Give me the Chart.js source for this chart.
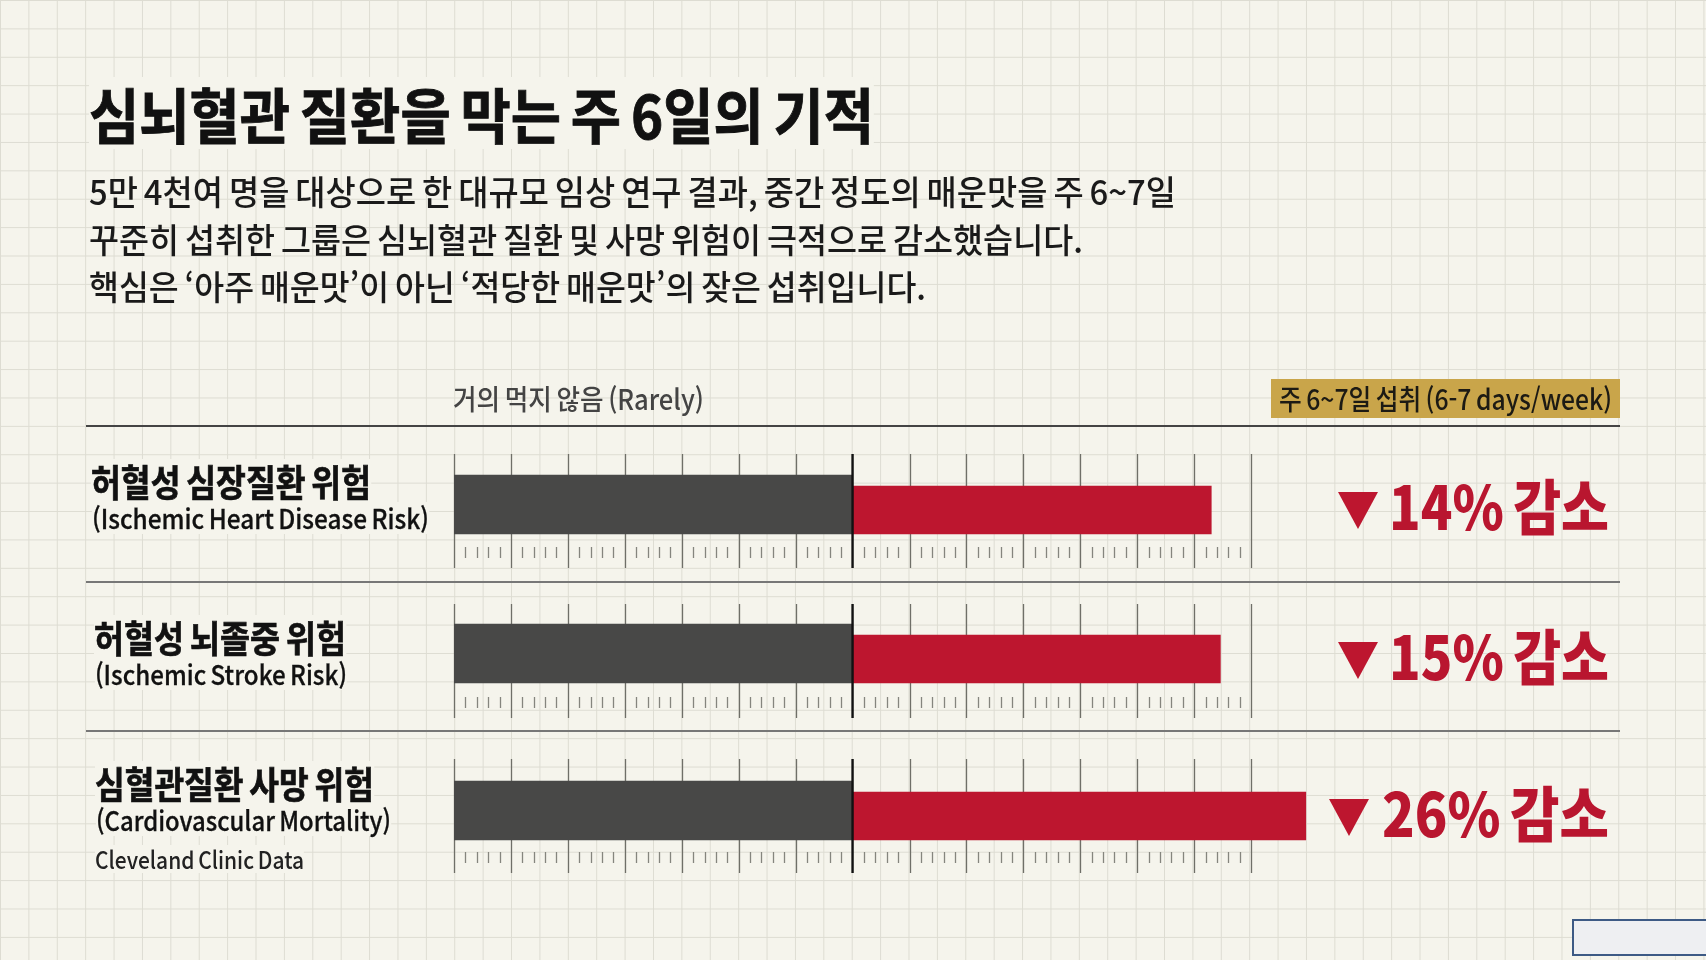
<!DOCTYPE html>
<html lang="ko"><head><meta charset="utf-8">
<script src="https://cdn.jsdelivr.net/npm/chart.js@4"></script>
<style>
html,body{margin:0;padding:0;width:1706px;height:960px;overflow:hidden}
body{background-color:#f5f4ec;
 background-image:linear-gradient(to right,#dddcd2 1px,transparent 1px),linear-gradient(to bottom,#dddcd2 1px,transparent 1px);
 background-size:28.4px 28.4px;font-family:"Noto Sans CJK KR","Noto Sans",sans-serif}
canvas{position:absolute;left:0;top:0}
.t{position:absolute;white-space:pre;transform-origin:0 50%;line-height:1.2}
.r{position:absolute;left:86px;width:1534px}
</style></head><body>
<canvas id="c" width="1706" height="960"></canvas>
<div id="o"></div>
<script>
// --- data ---
const rowsKo=['허혈성 심장질환 위험','허혈성 뇌졸중 위험','심혈관질환 사망 위험'];
const rowsEn=['(Ischemic Heart Disease Risk)','(Ischemic Stroke Risk)','(Cardiovascular Mortality)'];
const rarelyValues=[-7,-7,-7];
const weeklyValues=[6.3,6.46,7.96];
const reductions=[14,15,26];
const titleText='심뇌혈관 질환을 막는 주 6일의 기적';
const bodyLines=['5만 4천여 명을 대상으로 한 대규모 임상 연구 결과, 중간 정도의 매운맛을 주 6~7일','꾸준히 섭취한 그룹은 심뇌혈관 질환 및 사망 위험이 극적으로 감소했습니다.','핵심은 ‘아주 매운맛’이 아닌 ‘적당한 매운맛’의 잦은 섭취입니다.'];
const seriesNames=['거의 먹지 않음 (Rarely)','주 6~7일 섭취 (6-7 days/week)'];
const sourceText='Cleveland Clinic Data';

// --- layout (pixels on the page) ---
const rowTop=[454,604,759];
const rowH=114, redH=48, darkH=59;
const darkOffs=[21,20,22], redOffs=[32,31,33];
const tickMin=-7,tickMax=7;

const makeBand=(offs,h,vals,start)=>vals.map((v,i)=>({y:rowTop[i]+offs[i]+h/2,x:start?[v,0]:[0,v]}));
const ruler={id:'ruler',
 beforeDatasetsDraw(ch){const c=ch.ctx,x=ch.scales.x;c.save();
  rowTop.forEach(t=>{
   for(let m=tickMin;m<=tickMax;m++){
    const p=Math.round(x.getPixelForValue(m))+.5;
    c.strokeStyle='#6f6f68';c.lineWidth=1.3;
    if(m!==0){c.beginPath();c.moveTo(p,t);c.lineTo(p,t+rowH);c.stroke();}
    if(m<tickMax)for(let k=1;k<5;k++){
     const q=Math.round(x.getPixelForValue(m+k/5))+.5;
     c.strokeStyle='#85857e';c.lineWidth=1.3;
     c.beginPath();c.moveTo(q,t+93);c.lineTo(q,t+104);c.stroke();}
   }});
  c.restore();},
 afterDatasetsDraw(ch){const c=ch.ctx,x=ch.scales.x;c.save();
  const p=x.getPixelForValue(0);
  c.strokeStyle='#111';c.lineWidth=2.4;
  rowTop.forEach(t=>{c.beginPath();c.moveTo(p,t);c.lineTo(p,t+rowH);c.stroke();});
  c.restore();}};

new Chart(document.getElementById('c'),{type:'bar',plugins:[ruler],
 data:{datasets:[
  {label:seriesNames[0],data:makeBand(darkOffs,darkH,rarelyValues,true),backgroundColor:'#484847',barThickness:darkH,grouped:false},
  {label:seriesNames[1],data:makeBand(redOffs,redH,weeklyValues,false),backgroundColor:'#bd162f',barThickness:redH,grouped:false}]},
 options:{indexAxis:'y',responsive:false,animation:false,devicePixelRatio:1,
  layout:{padding:{left:454,right:341,top:0,bottom:0}},
  plugins:{legend:{display:false},tooltip:{enabled:false},title:{display:false}},
  scales:{x:{type:'linear',min:-7,max:9,display:false},
          y:{type:'linear',min:0,max:960,reverse:true,display:false,offset:false}}}});

const o=document.getElementById('o');
function put(txt,x,yc,w,size,weight,color,bg,stroke){
 const d=document.createElement('div');d.className='t';d.textContent=txt;
 d.style.font=`${weight} ${size}px "Noto Sans CJK KR"`;d.style.lineHeight='1.2';d.style.color=color;
 d.style.wordSpacing='-0.1em';
 if(stroke)d.style.webkitTextStroke=stroke+'px '+color;
 o.appendChild(d);
 const nat=d.getBoundingClientRect().width, h=size*1.2;
 d.style.left=x+'px';d.style.top=(yc-h/2)+'px';
 d.style.transform=`scaleX(${w/nat})`;
 if(bg)d.style.background='#f5f4ec';
}
function rule(y,col,h){const d=document.createElement('div');d.className='r';d.style.top=y+'px';d.style.height=h+'px';d.style.background=col;o.appendChild(d);}
function whenReady(){
 put(titleText,89,113,785,60,700,'#111',true,.9);
 put(bodyLines[0],89,191,1087,34,500,'#1a1a1a');
 put(bodyLines[1],89,239,994,34,500,'#1a1a1a');
 put(bodyLines[2],89,286,837,34,500,'#1a1a1a');
 put(seriesNames[0],453,399,251,28,500,'#444');
 const g=document.createElement('div');g.style.cssText='position:absolute;left:1271px;top:379px;width:349px;height:39px;background:#c9a54a';o.appendChild(g);
 put(seriesNames[1],1279,399,333,28,500,'#1c1a14');
 rule(425,'#444',1.5);rule(581,'#777',1.5);rule(730,'#777',1.5);
 const lx=[91,94,95],ly=[481,637,783],ey=[518,674,820],lw=[280,252,279],ew=[337,252,295];
 const rx=[1389,1389,1382],tx=[1338,1338,1329],ry=[504,654,811],ty=[508,658,815];
 rowsKo.forEach((s,i)=>{
  put(s,lx[i],ly[i],lw[i],37,700,'#111',true,.7);
  put(rowsEn[i],lx[i]+1,ey[i],ew[i],27,500,'#111',true,.3);
  put(reductions[i]+'% 감소',rx[i],ry[i],1609-rx[i],60,900,'#b9162f');
  const tr=document.createElement('div');
  const h=37;tr.style.cssText=`position:absolute;left:${tx[i]}px;top:${ty[i]-16}px;width:0;height:0;border-left:20px solid transparent;border-right:20px solid transparent;border-top:${h}px solid #bd162f`;
  o.appendChild(tr);
 });
 put(sourceText,95,859,209,24,500,'#222',true);
 const b=document.createElement('div');b.style.cssText='position:absolute;left:1572px;top:919px;width:134px;height:37px;box-sizing:border-box;border:2px solid #3d5a85;border-right:none;background:#eeeff2';o.appendChild(b);
}
whenReady();
if(document.fonts&&document.fonts.ready)document.fonts.ready.then(()=>{o.innerHTML='';whenReady();});
</script>
</body></html>
